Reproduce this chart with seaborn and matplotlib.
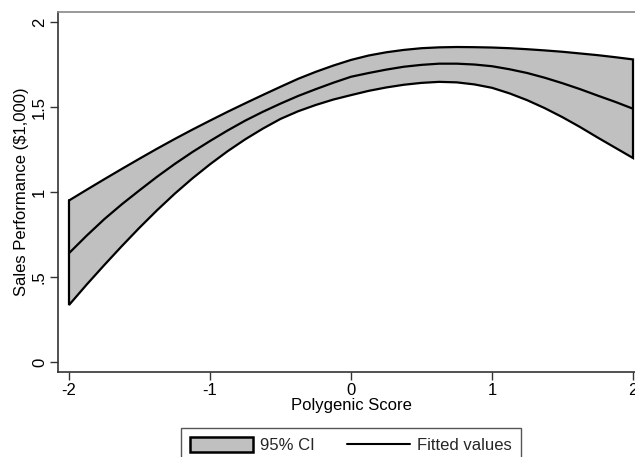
import numpy as np
import pandas as pd
import seaborn as sns
import matplotlib.pyplot as plt
from matplotlib.patches import Patch
from matplotlib.lines import Line2D

# values (steps of 0.125 on the x axis)
score = [-2.0, -1.875, -1.75, -1.625, -1.5, -1.375, -1.25, -1.125, -1.0,
         -0.875, -0.75, -0.625, -0.5, -0.375, -0.25, -0.125, 0.0,
         0.125, 0.25, 0.375, 0.5, 0.625, 0.75, 0.875, 1.0,
         1.125, 1.25, 1.375, 1.5, 1.625, 1.75, 1.875, 2.0]
fitted = [0.64, 0.743, 0.84, 0.928, 1.01, 1.09, 1.165, 1.235, 1.30,
          1.362, 1.42, 1.472, 1.52, 1.565, 1.605, 1.643, 1.678,
          1.70, 1.72, 1.737, 1.748, 1.755, 1.755, 1.75, 1.74,
          1.722, 1.70, 1.672, 1.64, 1.605, 1.567, 1.53, 1.49]
ci_upper = [0.95, 1.013, 1.075, 1.136, 1.196, 1.255, 1.312, 1.367, 1.42,
            1.472, 1.522, 1.571, 1.619, 1.666, 1.707, 1.744, 1.777,
            1.803, 1.822, 1.836, 1.846, 1.851, 1.853, 1.852, 1.85,
            1.846, 1.84, 1.833, 1.825, 1.815, 1.805, 1.793, 1.78]
ci_lower = [0.335, 0.455, 0.57, 0.682, 0.79, 0.893, 0.99, 1.08, 1.163,
            1.24, 1.31, 1.373, 1.43, 1.475, 1.512, 1.544, 1.57,
            1.595, 1.615, 1.631, 1.642, 1.648, 1.645, 1.633, 1.613,
            1.58, 1.54, 1.493, 1.44, 1.382, 1.32, 1.26, 1.20]

x_ticks = [-2, -1, 0, 1, 2]
y_ticks = [0, 0.5, 1, 1.5, 2]
y_tick_labels = ['0', '.5', '1', '1.5', '2']

df = pd.DataFrame({'score': score, 'fitted': fitted,
                   'upper': ci_upper, 'lower': ci_lower})

sns.set_theme(style='white')
plt.rcParams['font.family'] = ['Liberation Sans', 'DejaVu Sans']

fig = plt.figure(figsize=(6.35, 4.57), dpi=100)
ax = fig.add_axes([58 / 635, 85 / 457, 586 / 635, 360 / 457])

ax.fill_between(df['score'], df['lower'], df['upper'],
                facecolor='#c0c0c0', edgecolor='none', zorder=1)
# outline of the band, including the vertical end caps
band_x = list(df['score']) + list(df['score'][::-1]) + [df['score'].iloc[0]]
band_y = list(df['upper']) + list(df['lower'][::-1]) + [df['upper'].iloc[0]]
ax.plot(band_x, band_y, color='black', linewidth=1.6, zorder=2,
        solid_joinstyle='miter')

sns.lineplot(data=df, x='score', y='fitted', ax=ax, color='black',
             linewidth=1.6, zorder=3)

ax.set_xlim(-2.078, 2.078)
ax.set_ylim(-0.059, 2.059)
ax.set_xticks(x_ticks)
ax.set_xticklabels([str(t) for t in x_ticks])
ax.set_yticks(y_ticks)
ax.set_yticklabels(y_tick_labels, rotation=90, va='center')

ax.tick_params(axis='both', which='both', direction='out', length=6,
               width=1, color='#333333', labelsize=12, labelcolor='black',
               bottom=True, left=True, pad=2)

ax.set_xlabel('Polygenic Score', fontsize=12, color='black', labelpad=0)
ax.set_ylabel('Sales Performance ($1,000)', fontsize=12, color='black',
              labelpad=2)

for side in ['left', 'bottom']:
    ax.spines[side].set_color('#333333')
    ax.spines[side].set_linewidth(1.2)
ax.spines['top'].set_color('#888888')
ax.spines['top'].set_linewidth(1.2)
ax.spines['right'].set_visible(False)

handles = [
    Patch(facecolor='#c0c0c0', edgecolor='black', linewidth=1.8),
    Line2D([0], [0], color='black', linewidth=1.5),
]
fig.legend(handles, ['95% CI', 'Fitted values'], ncol=2,
           loc='upper left', bbox_to_anchor=(181 / 635, 1 - 428 / 457),
           fontsize=12, frameon=True, fancybox=False, edgecolor='#555555',
           framealpha=1, handlelength=3.75, handleheight=0.95,
           handletextpad=0.45, columnspacing=1.95, borderpad=0.55,
           borderaxespad=0)

fig.savefig('out.png', dpi=100)
